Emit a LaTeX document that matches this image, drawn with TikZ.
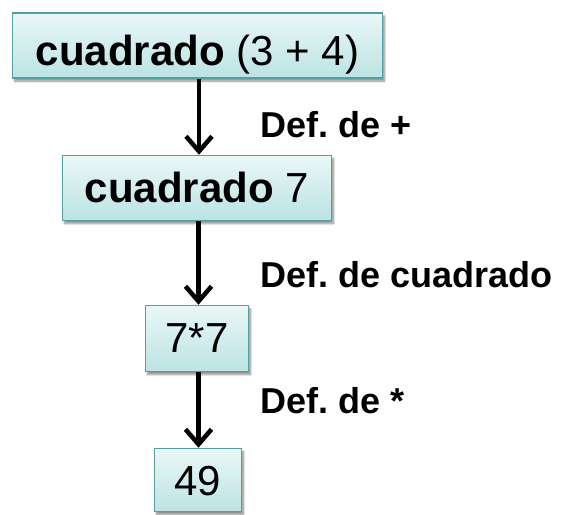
\documentclass[tikz,border=0pt]{standalone}
\usepackage{fontspec}
\setmainfont{Liberation Sans}
\usetikzlibrary{arrows.meta,shadows.blur}
\frenchspacing
\definecolor{boxline}{RGB}{84,160,160}
\definecolor{boxtop}{RGB}{234,247,247}
\definecolor{boxbot}{RGB}{188,227,227}
\tikzset{
  box/.style={rectangle, draw=boxline, line width=1.5pt, top color=boxtop, bottom color=boxbot,
    inner xsep=0pt, inner ysep=0pt, text depth=0pt, font=\fontsize{42}{50}\selectfont,
    blur shadow={shadow xshift=2pt, shadow yshift=-3pt, shadow blur steps=6, shadow opacity=45}},
  lbl/.style={anchor=base west, inner sep=0pt, font=\fontsize{36}{42}\selectfont\bfseries},
  arr/.style={line width=4.5pt, -{Straight Barb[length=15pt,width=26pt]}}
}
\begin{document}
\begin{tikzpicture}[x=1pt,y=-1pt]
\useasboundingbox (0,0) rectangle (561,514);
\node[box, minimum width=370pt, minimum height=65pt, text height=39pt] (b1) at (197.5,45.5) {\textbf{cuadrado} (3 + 4)};
\node[box, minimum width=269pt, minimum height=65pt, text height=28pt] (b2) at (197,188) {\textbf{cuadrado} 7};
\node[box, minimum width=103pt, minimum height=66pt, text height=27pt] (b3) at (197,338.5) {7*7};
\node[box, minimum width=87pt, minimum height=63pt, text height=30pt] (b4) at (198,480) {49};
\draw[arr] ([xshift=1.5pt]b1.south) -- ([xshift=1.5pt]b1.south |- b2.north);
\draw[arr] ([xshift=1.5pt]b2.south) -- ([xshift=1.5pt]b2.south |- b3.north);
\draw[arr] ([xshift=1.5pt]b3.south) -- ([xshift=1.5pt]b3.south |- b4.north);
\node[lbl] (l1) at (260,137) {Def. de +};
\node[lbl] (l2) at (260,287) {Def. de cuadrado};
\node[lbl] (l3) at (260,413) {Def. de *};
\end{tikzpicture}
\end{document}
